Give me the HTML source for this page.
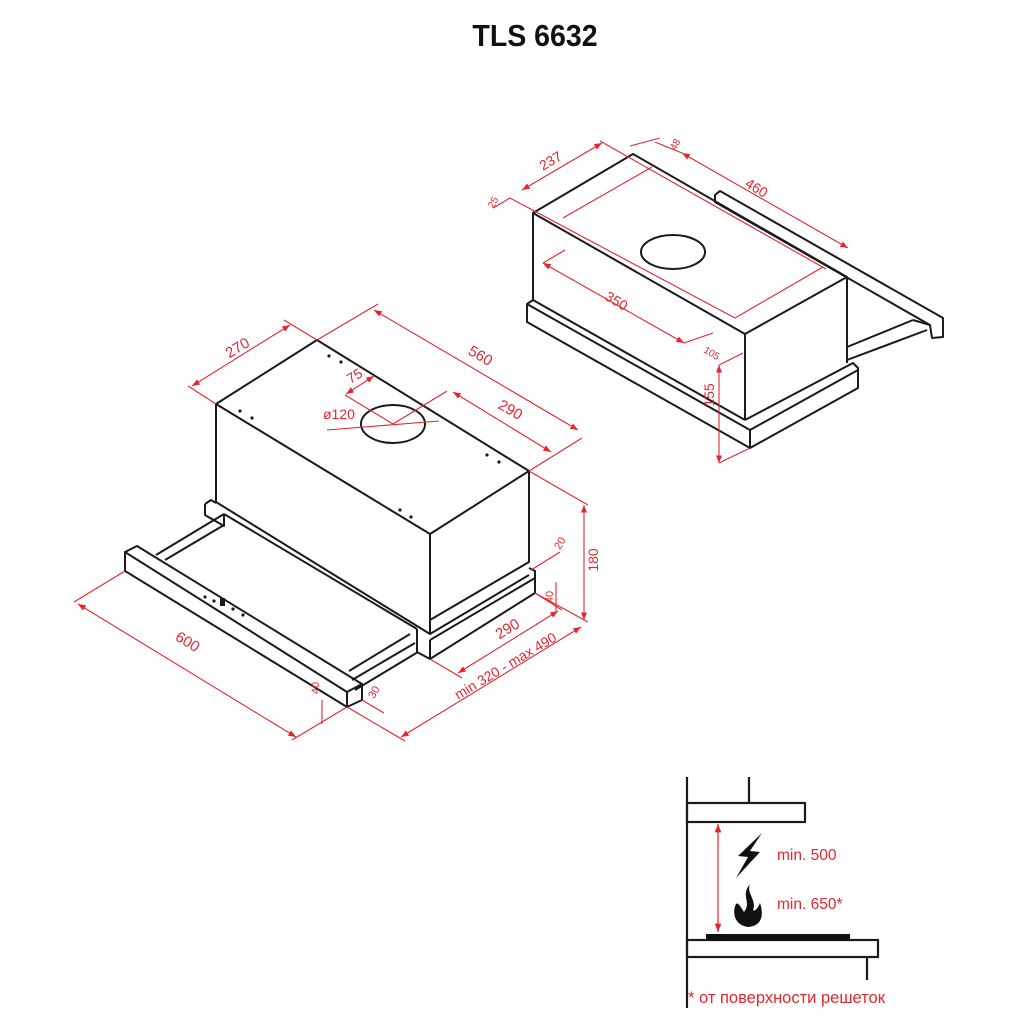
<!DOCTYPE html>
<html><head><meta charset="utf-8"><style>
html,body{margin:0;padding:0;background:#fff;}
svg{display:block}
text{font-family:"Liberation Sans",sans-serif;}
</style></head><body>
<svg width="1024" height="1024" viewBox="0 0 1024 1024" xmlns="http://www.w3.org/2000/svg">
<defs>
<marker id="a" viewBox="0 0 10 10" refX="10" refY="5" markerWidth="7" markerHeight="7" orient="auto-start-reverse"><path d="M0,1 L10,5 L0,9 z" fill="#e3262f"/></marker>
</defs>
<text x="535" y="46" text-anchor="middle" font-size="31" font-weight="bold" fill="#111" transform="translate(535,0) scale(0.92,1) translate(-535,0)">TLS 6632</text>

<!-- LEFT HOOD -->
<g stroke="#1a1a1a" stroke-width="2" fill="none" stroke-linejoin="round">
<path d="M216,404 L317,340 L529,471 L430,534 Z"/>
<path d="M216,404 L216,502 L430,634 L430,534"/>
<path d="M529,471 L529,562 L430,620"/>
<ellipse cx="393" cy="424" rx="32" ry="19"/>
<path d="M205,504 L205,515 L224,526 L224,514 M205,504 L211,500 L216,503"/>
<path d="M224,514 L417,629"/>
<path d="M156,555 L224,514 M165,560 L224,525"/>
<path d="M125,552 L137,546 L362,684 L347,692 Z"/>
<path d="M125,552 L125,571 L347,707 L347,692 M362,684 L362,700 L347,707"/>
<path d="M349,671 L410,634 M352,680 L415,643 M355,690 L418,652 M417,629 L417,652 L430,659 L430,640"/>
<path d="M430,640 L535,578 M430,659 L535,593 L535,571 L529,568"/>
<path d="M430,634 L529,575"/>
</g>
<g fill="#1a1a1a">
<circle cx="329" cy="356" r="1.6"/><circle cx="341" cy="362" r="1.6"/>
<circle cx="240" cy="411" r="1.6"/><circle cx="252" cy="418" r="1.6"/>
<circle cx="487" cy="455" r="1.6"/><circle cx="499" cy="462" r="1.6"/>
<circle cx="400" cy="510" r="1.6"/><circle cx="411" cy="517" r="1.6"/>
<circle cx="205" cy="597" r="1.6"/><circle cx="214" cy="601" r="1.6"/><circle cx="233" cy="609" r="1.6"/><circle cx="243" cy="615" r="1.6"/>
<rect x="220" y="598" width="5" height="8"/>
</g>
<g stroke="#e3262f" stroke-width="1.1" fill="none">
<line x1="192" y1="386" x2="290" y2="325" marker-start="url(#a)" marker-end="url(#a)"/>
<line x1="216" y1="404" x2="188" y2="386"/><line x1="317" y1="340" x2="284" y2="320"/>
<line x1="374" y1="310" x2="578" y2="430" marker-start="url(#a)" marker-end="url(#a)"/>
<line x1="317" y1="340" x2="378" y2="304"/><line x1="529" y1="471" x2="582" y2="438"/>
<line x1="453" y1="392" x2="551" y2="452" marker-start="url(#a)" marker-end="url(#a)"/>
<line x1="393" y1="424" x2="447" y2="391"/>
<line x1="346" y1="394" x2="374" y2="376" marker-start="url(#a)" marker-end="url(#a)"/>
<line x1="393" y1="424" x2="345" y2="395"/>
<line x1="327" y1="430" x2="439" y2="421"/>
<line x1="584" y1="505" x2="584" y2="620" marker-start="url(#a)" marker-end="url(#a)"/>
<line x1="529" y1="471" x2="588" y2="505"/><line x1="535" y1="593" x2="588" y2="622"/>
<line x1="531" y1="570" x2="560" y2="552"/>
<line x1="556" y1="582" x2="556" y2="611"/>
<line x1="458" y1="673" x2="558" y2="611" marker-start="url(#a)" marker-end="url(#a)"/>
<line x1="430" y1="659" x2="462" y2="678"/><line x1="535" y1="593" x2="562" y2="610"/>
<line x1="401" y1="737" x2="581" y2="627" marker-start="url(#a)" marker-end="url(#a)"/>
<line x1="347" y1="707" x2="405" y2="741"/>
<line x1="78" y1="604" x2="296" y2="737" marker-start="url(#a)" marker-end="url(#a)"/>
<line x1="125" y1="571" x2="74" y2="602"/><line x1="347" y1="707" x2="292" y2="740"/>
<line x1="322" y1="700" x2="322" y2="724"/>
<line x1="362" y1="700" x2="384" y2="713"/>
</g>
<g fill="#e3262f" font-size="15">
<text transform="translate(240,352) rotate(-31)" text-anchor="middle">270</text>
<text transform="translate(478,360) rotate(30)" text-anchor="middle">560</text>
<text transform="translate(508,414) rotate(30)" text-anchor="middle">290</text>
<text transform="translate(357,380) rotate(-31)" text-anchor="middle" font-size="14">75</text>
<text x="323" y="419" font-size="14">ø120</text>
<text transform="translate(598,560) rotate(-90)" text-anchor="middle" font-size="14">180</text>
<text transform="translate(553,597) rotate(-90)" text-anchor="middle" font-size="11">40</text>
<text transform="translate(563,545) rotate(-60)" text-anchor="middle" font-size="11">20</text>
<text transform="translate(510,633) rotate(-31)" text-anchor="middle">290</text>
<text transform="translate(508,670) rotate(-31)" text-anchor="middle" font-size="14">min 320 - max 490</text>
<text transform="translate(185,646) rotate(31)" text-anchor="middle">600</text>
<text transform="translate(319,688) rotate(-90)" text-anchor="middle" font-size="11">40</text>
<text transform="translate(377,694) rotate(-60)" text-anchor="middle" font-size="11">30</text>
</g>

<!-- RIGHT HOOD -->
<g stroke="#1a1a1a" stroke-width="2" fill="none" stroke-linejoin="round">
<path d="M533,213 L633,154 L847,277 L745,334 Z"/>
<path d="M533,213 L533,300 M745,334 L745,420 M847,277 L847,363"/>
<ellipse cx="673" cy="252" rx="32" ry="17"/>
<path d="M533,300 L527,304 L527,322 L750,448 L750,430 L527,304"/>
<path d="M533,300 L745,420"/>
<path d="M745,420 L853,363 L858,368 L858,388 L750,448 M750,430 L858,370"/>
<path d="M720,191 L943,318 L943,337 L932,338 L930,325 L715,202 L715,195 Z"/>
<path d="M847,347 L913,320 M847,360 L927,330 M930,325 L913,320"/>
</g>
<g stroke="#e3262f" stroke-width="1.1" fill="none">
<line x1="522" y1="190" x2="602" y2="143" marker-start="url(#a)" marker-end="url(#a)"/>
<line x1="510" y1="198" x2="493" y2="208"/>
<line x1="510" y1="198" x2="735" y2="318"/>
<line x1="600" y1="141" x2="826" y2="269"/>
<line x1="563" y1="218" x2="652" y2="167"/>
<line x1="735" y1="318" x2="823" y2="267"/>
<line x1="655" y1="142" x2="682" y2="153"/>
<line x1="630" y1="146" x2="660" y2="138"/>
<line x1="682" y1="153" x2="848" y2="248" marker-start="url(#a)" marker-end="url(#a)"/>
<line x1="543" y1="263" x2="684" y2="343" marker-start="url(#a)" marker-end="url(#a)"/>
<line x1="543" y1="263" x2="565" y2="250"/>
<line x1="684" y1="343" x2="713" y2="333"/>
<line x1="719" y1="365" x2="743" y2="353"/>
<line x1="719" y1="365" x2="719" y2="463" marker-start="url(#a)" marker-end="url(#a)"/>
<line x1="719" y1="463" x2="750" y2="448"/>
</g>
<g fill="#e3262f" font-size="14">
<text transform="translate(553,165) rotate(-31)" text-anchor="middle">237</text>
<text transform="translate(678,146) rotate(-60)" text-anchor="middle" font-size="10">48</text>
<text transform="translate(754,192) rotate(31)" text-anchor="middle">460</text>
<text transform="translate(496,204) rotate(-60)" text-anchor="middle" font-size="10">25</text>
<text transform="translate(614,305) rotate(31)" text-anchor="middle">350</text>
<text transform="translate(710,356) rotate(31)" text-anchor="middle" font-size="10">105</text>
<text transform="translate(714,395) rotate(-90)" text-anchor="middle">155</text>
</g>

<!-- INSTALL -->
<g stroke="#1a1a1a" stroke-width="2.2" fill="none">
<line x1="687" y1="777" x2="687" y2="1008"/>
<line x1="749" y1="777" x2="749" y2="803"/>
<rect x="687" y="803" width="118" height="19"/>
<rect x="687" y="940" width="191" height="17"/>
<line x1="867" y1="957" x2="867" y2="980"/>
</g>
<rect x="706" y="934" width="144" height="7" fill="#111"/>
<line x1="718" y1="824" x2="718" y2="932" stroke="#e3262f" stroke-width="1.2" marker-start="url(#a)" marker-end="url(#a)"/>
<path d="M762,833 L738,856 L748,857 L736,878 L760,852 L750,851 Z" fill="#111"/>
<path d="M750,884 C740,896 752,902 744,912 C740,906 738,902 736,904 C732,912 734,925 748,927 C762,926 764,915 760,903 C758,908 755,912 753,910 C757,900 746,893 750,884 Z" fill="#111"/>
<g fill="#e3262f" font-size="15.5">
<text x="777" y="860">min. 500</text>
<text x="777" y="909">min. 650*</text>
<text x="688" y="1003" font-size="16.5">* от поверхности решеток</text>
</g>
</svg>
</body></html>
